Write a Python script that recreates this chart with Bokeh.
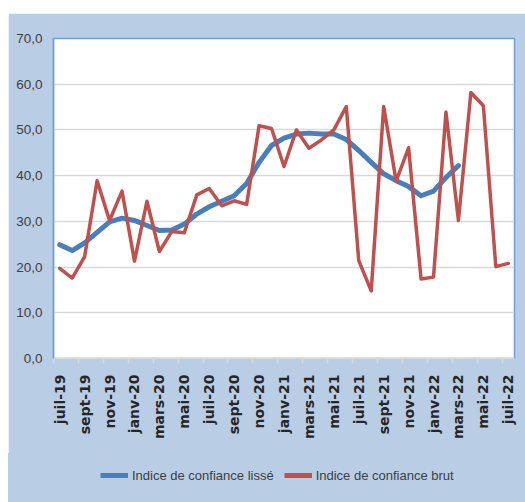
from bokeh.plotting import figure
from bokeh.models import FixedTicker, Legend, LegendItem, Spacer
from bokeh.layouts import row, column
from bokeh.embed import file_html
from bokeh.resources import INLINE

months = ["juil-19", "août-19", "sept-19", "oct-19", "nov-19", "déc-19",
          "janv-20", "févr-20", "mars-20", "avr-20", "mai-20", "juin-20",
          "juil-20", "août-20", "sept-20", "oct-20", "nov-20", "déc-20",
          "janv-21", "févr-21", "mars-21", "avr-21", "mai-21", "juin-21",
          "juil-21", "août-21", "sept-21", "oct-21", "nov-21", "déc-21",
          "janv-22", "févr-22", "mars-22", "avr-22", "mai-22", "juin-22",
          "juil-22"]

lisse = [24.9, 23.6, 25.3, 27.6, 29.9, 30.7, 30.2, 29.1, 28.0, 28.1, 29.4,
         31.6, 33.2, 34.4, 35.6, 38.3, 42.9, 46.6, 48.2, 49.1, 49.3, 49.1,
         49.1, 47.9, 45.5, 42.9, 40.4, 38.9, 37.6, 35.6, 36.6, 39.6, 42.2]

brut = [19.7, 17.6, 22.3, 38.9, 30.2, 36.6, 21.3, 34.4, 23.4, 27.8, 27.5,
        35.8, 37.2, 33.4, 34.5, 33.7, 50.9, 50.3, 42.0, 50.0, 46.0, 47.8,
        50.0, 55.1, 21.4, 14.8, 55.1, 38.8, 46.1, 17.4, 17.8, 53.9, 30.2,
        58.2, 55.3, 20.1, 20.8]

y_ticks = [0, 10, 20, 30, 40, 50, 60, 70]
y_labels = ["0,0", "10,0", "20,0", "30,0", "40,0", "50,0", "60,0", "70,0"]

series_names = ["Indice de confiance lissé", "Indice de confiance brut"]

idx = list(range(len(months)))
label_idx = idx[::2]
tick_bounds = [i - 0.5 for i in label_idx]

FONT = "Liberation Sans"
BG = "#b9cde5"
BLUE = "#4a7ebb"
RED = "#c0504d"

p = figure(width=517, height=440, output_backend="svg", toolbar_location=None,
           x_range=(-0.5, len(months) - 0.5), y_range=(0, 70),
           min_border_left=45, min_border_top=25, min_border_right=11,
           min_border_bottom=95)
p.border_fill_color = BG
p.background_fill_color = "white"
p.outline_line_color = "#6f9fd8"
p.outline_line_width = 1.5

# lines
r_lisse = p.line(idx[:len(lisse)], lisse, line_color=BLUE, line_width=5,
                 line_join="round", line_cap="round")
r_brut = p.line(idx, brut, line_color=RED, line_width=3.5,
                line_join="round", line_cap="round")

# x axis
p.xaxis.ticker = FixedTicker(ticks=label_idx, minor_ticks=tick_bounds)
p.xaxis.major_label_overrides = {i: months[i] for i in label_idx}
p.xaxis.major_label_orientation = 3.14159265 / 2
p.xaxis.major_tick_out = 0
p.xaxis.major_tick_in = 0
p.xaxis.minor_tick_out = 5
p.xaxis.minor_tick_in = 0
p.xaxis.minor_tick_line_color = "#d9d9d9"
p.xaxis.minor_tick_line_width = 1.5
p.xaxis.axis_line_color = "#d9d9d9"
p.xaxis.axis_line_width = 2
p.xaxis.major_label_standoff = 11
p.xaxis.major_label_text_font = "DejaVu Sans"
p.xaxis.major_label_text_font_style = "bold"
p.xaxis.major_label_text_font_size = "14px"
p.xaxis.major_label_text_color = "#262626"

# y axis
p.yaxis.ticker = FixedTicker(ticks=y_ticks)
p.yaxis.major_label_overrides = {t: l for t, l in zip(y_ticks, y_labels)}
p.yaxis.major_tick_out = 0
p.yaxis.major_tick_in = 0
p.yaxis.minor_tick_line_color = None
p.yaxis.axis_line_color = "#6f9fd8"
p.yaxis.axis_line_width = 1.5
p.yaxis.major_label_standoff = 11
p.yaxis.major_label_text_font = FONT
p.yaxis.major_label_text_font_size = "13.5px"
p.yaxis.major_label_text_color = "#404040"

# grid
p.xgrid.grid_line_color = None
p.ygrid.grid_line_color = "#d9d9d9"
p.ygrid.grid_line_width = 1.5

# legend strip (separate figure so the legend is not clipped by the frame)
p2 = figure(width=517, height=49, output_backend="svg", toolbar_location=None,
            x_axis_type=None, y_axis_type=None, min_border=0,
            x_range=(0, 1), y_range=(0, 1))
p2.border_fill_color = BG
p2.background_fill_color = None
p2.outline_line_color = None
p2.grid.visible = False
p2.styles = {"background-color": BG}
nan = float("nan")
d1 = p2.line(x=[nan], y=[nan], line_color=BLUE, line_width=5)
d2 = p2.line(x=[nan], y=[nan], line_color=RED, line_width=5)

legend = Legend(items=[LegendItem(label=series_names[0], renderers=[d1]),
                       LegendItem(label=series_names[1], renderers=[d2])],
                orientation="horizontal", location=(47, 18),
                padding=0, margin=0, spacing=10, glyph_width=28,
                glyph_height=18, label_height=18,
                label_standoff=4, border_line_color=None,
                background_fill_alpha=0)
legend.label_text_font = FONT
legend.label_text_font_size = "13px"
legend.label_text_color = "#404040"
p2.add_layout(legend, "center")

layout = row(Spacer(width=8, height=502),
             column(Spacer(width=517, height=13), p, p2, spacing=0),
             spacing=0)
open("out.html", "w").write(file_html(layout, INLINE))
